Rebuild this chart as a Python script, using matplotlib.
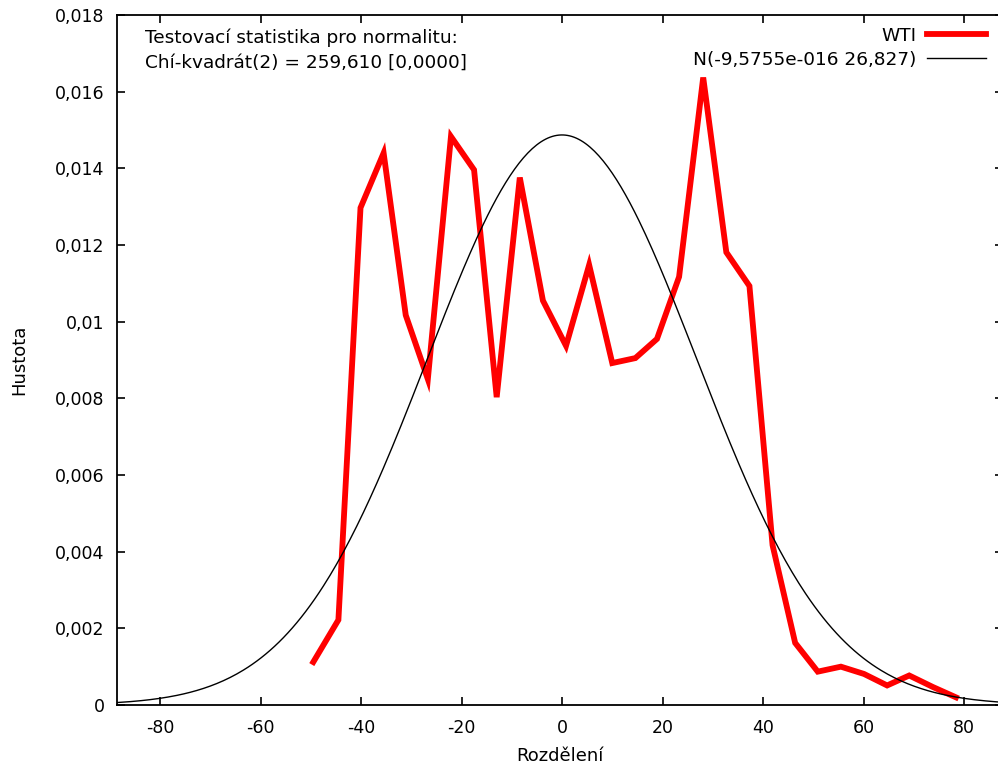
import numpy as np
import matplotlib
matplotlib.use("Agg")
import matplotlib.pyplot as plt
from matplotlib.ticker import FuncFormatter

# WTI density estimate
bin_x = [-49.5, -44.5, -40.1, -35.5, -31.1, -26.7, -22.1, -17.5, -13.0, -8.4,
         -3.8, 0.8, 5.4, 10.0, 14.6, 18.9, 23.3, 28.1, 32.7, 37.3,
         41.9, 46.4, 50.9, 55.5, 60.1, 64.7, 69.1, 73.8, 78.4]
wti_density = [0.00112, 0.00222, 0.01297, 0.01440, 0.01017, 0.00850, 0.01483, 0.01396, 0.00803, 0.01376,
               0.01055, 0.00937, 0.01148, 0.00892, 0.00905, 0.00955, 0.01117, 0.01637, 0.01181, 0.01093,
               0.00417, 0.00162, 0.00087, 0.00100, 0.00081, 0.00051, 0.00077, 0.00047, 0.00020]

# normal fit from the legend
mu = -9.5755e-16
sigma = 26.827

stat_lines = ["Testovací statistika pro normalitu:", "Chí-kvadrát(2) = 259,610 [0,0000]"]

plt.rcParams['font.family'] = ['DejaVu Sans']
plt.rcParams['font.size'] = 13.3

fig = plt.figure(figsize=(9.98, 7.72), dpi=100)
# right edge sits just past the image border, like the original
ax = fig.add_axes([117/998, 1 - 705/772, 886/998, 690/772])

xs = np.linspace(-88.6, 87.8, 400)
normal = np.exp(-0.5 * ((xs - mu) / sigma) ** 2) / (sigma * np.sqrt(2 * np.pi))

ax.plot(bin_x, wti_density, color='#ff0000', lw=4.2, label='WTI', solid_joinstyle='miter')
ax.plot(xs, normal, color='black', lw=1.0, label='N(-9,5755e-016 26,827)')

ax.set_xlim(-88.56, 87.76)
ax.set_ylim(0, 0.018)
ax.set_xticks(np.arange(-80, 81, 20))
ax.set_yticks(np.arange(0, 0.0181, 0.002))

fmt = FuncFormatter(lambda v, p: ('%g' % round(v, 6)).replace('.', ','))
ax.xaxis.set_major_formatter(fmt)
ax.yaxis.set_major_formatter(fmt)

ax.tick_params(direction='in', length=6, width=1.2, top=True, right=True, pad=10,
               colors='black', labelsize=12.5)
ax.tick_params(axis='y', pad=9)
for s in ax.spines.values():
    s.set_linewidth(1.3)

ax.set_xlabel("Rozdělení", labelpad=7, fontsize=13)
ax.set_ylabel("Hustota", labelpad=19, fontsize=13)

ax.text(0.0316, 0.9667, stat_lines[0], transform=ax.transAxes, va='center', ha='left')
ax.text(0.0316, 0.9304, stat_lines[1], transform=ax.transAxes, va='center', ha='left')

leg = ax.legend(loc='upper right', frameon=False, markerfirst=False, handlelength=3.2,
                bbox_to_anchor=(0.993, 0.999), labelspacing=0.33, handletextpad=0.55,
                borderaxespad=0.2)

fig.savefig("out.png", dpi=100)
